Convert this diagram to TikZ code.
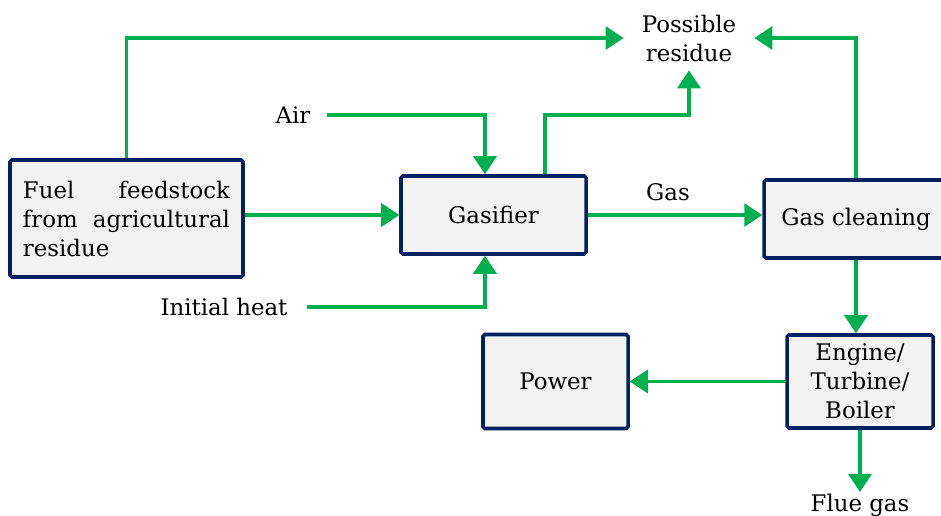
\documentclass[tikz,border=0pt]{standalone}
\usepackage{fontspec}
\setmainfont{DejaVu Serif}
\usetikzlibrary{arrows.meta}

\definecolor{flowgreen}{HTML}{00B050}
\definecolor{boxnavy}{HTML}{002060}
\definecolor{boxfill}{HTML}{F2F2F2}

\begin{document}
\begin{tikzpicture}[
  font=\fontsize{13}{16.5}\selectfont,
  unit/.style={draw=boxnavy, fill=boxfill, line width=2pt, rounded corners=1pt, align=center},
  flow/.style={draw=flowgreen, line width=2pt, -{Triangle[width=0.46cm, length=0.36cm]}},
  tag/.style={inner xsep=9pt}
]
  \useasboundingbox (0,0) rectangle (18.82,10.3);
  \clip (0,0) rectangle (18.82,10.3);
  % --- Process units ---
  \node[unit, minimum width=4.66cm, minimum height=2.34cm, text width=4.14cm, align=left] (fuel) at (2.53,5.93)
    {Fuel\hfill feedstock\\ from\hfill agricultural\\ residue};
  \node[unit, minimum width=3.70cm, minimum height=1.56cm] (gasif) at (9.87,6.0) {Gasifier};
  \node[unit, minimum width=3.68cm, minimum height=1.56cm] (gascl) at (17.12,5.92) {Gas cleaning};
  \node[unit, minimum width=2.90cm, minimum height=1.88cm] (power) at (11.11,2.67) {Power};
  \node[unit, minimum width=2.92cm, minimum height=1.86cm, inner ysep=2pt] (engine) at (17.20,2.67)
    {Engine/\\Turbine/\\Boiler};
  % --- Inputs and outputs ---
  \node[minimum width=2.6cm, minimum height=1.28cm, align=center] (res) at (13.78,9.54) {Possible\\residue};
  \node[tag] (air) at (5.86,8.0) {Air};
  \node[tag, inner xsep=11pt] (heat) at (4.48,4.16) {Initial heat};
  \node[anchor=north, inner ysep=1pt] (flue) at (17.2,0.46) {Flue gas};
  % --- Flows ---
  \draw[flow] (fuel.north) |- (res.west);
  \draw[flow] (fuel.east |- gasif.west) -- (gasif.west);
  \draw[flow] (air.east) -| ([xshift=-0.17cm]gasif.north);
  \draw[flow] (heat.east) -| ([xshift=-0.17cm]gasif.south);
  \draw[flow] ([xshift=1.03cm]gasif.north) |- (air.east -| res.south) -- (res.south);
  \draw[flow] (gasif.east) -- (gasif.east -| gascl.west) node[pos=0.46, above=4pt] (gas) {Gas};
  \draw[flow] (gascl.north) |- (res.east);
  \draw[flow] (gascl.south) -- (gascl.south |- engine.north);
  \draw[flow] (engine.west) -- (power.east);
  \draw[flow] (engine.south) -- (flue.north);
\end{tikzpicture}
\end{document}
